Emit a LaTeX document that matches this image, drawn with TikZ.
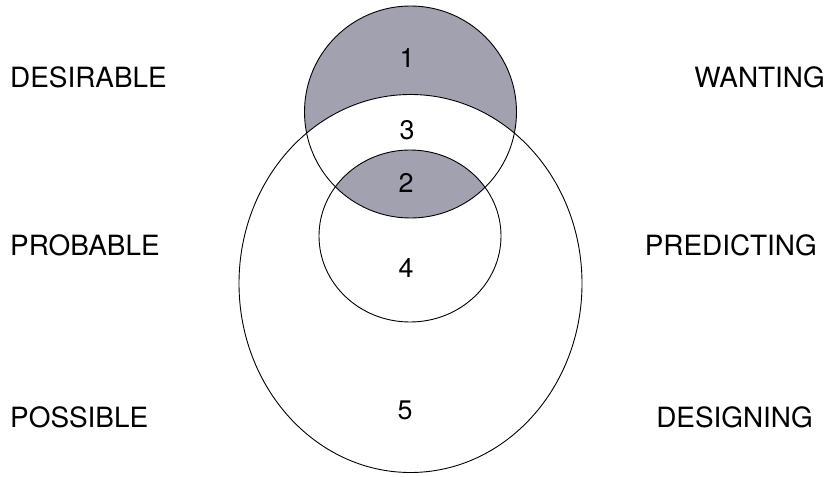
\documentclass[tikz,border=0pt]{standalone}
\usepackage{fontspec}
\setmainfont{TeX Gyre Heros}
\definecolor{ShadeClr}{rgb}{0.63,0.63,0.69}

\begin{document}
\begin{tikzpicture}[x=1bp,y=-1bp]
\tikzset{
  lbl/.style={inner sep=0pt,font=\fontsize{28}{30}\selectfont},
  num/.style={inner sep=0pt,font=\fontsize{27}{30}\selectfont},
  ring/.style={line width=0.9pt,color=black}
}
\useasboundingbox (0,0) rectangle (829,477);

% shaded parts
\fill[ShadeClr] (410.5,112) circle [radius=106];
\fill[white] (410.5,283.5) ellipse [x radius=171.5,y radius=189];
\begin{scope}
  \clip (410.5,112) circle [radius=106];
  \fill[ShadeClr] (410,236) ellipse [x radius=91,y radius=86];
\end{scope}

% outlines
\draw[ring] (410.5,112) circle [radius=106];
\draw[ring] (410.5,283.5) ellipse [x radius=171.5,y radius=189];
\draw[ring] (410,236) ellipse [x radius=91,y radius=86];

% region numbers
\node[num] (one) at (407,58) {1};
\node[num] (three) at (407,130) {3};
\node[num] (two) at (406,183) {2};
\node[num] (four) at (406,268) {4};
\node[num] (five) at (405,410) {5};

% left column
\node[lbl,anchor=west] (desirable) at (10,77) {DESIRABLE};
\node[lbl,anchor=west] (probable) at (10,245) {PROBABLE};
\node[lbl,anchor=west] (possible) at (10,417) {POSSIBLE};

% right column
\node[lbl,anchor=east] (wanting) at (825,77) {WANTING};
\node[lbl,anchor=east] (predicting) at (817,245) {PREDICTING};
\node[lbl,anchor=east] (designing) at (813,417) {DESIGNING};
\end{tikzpicture}
\end{document}
